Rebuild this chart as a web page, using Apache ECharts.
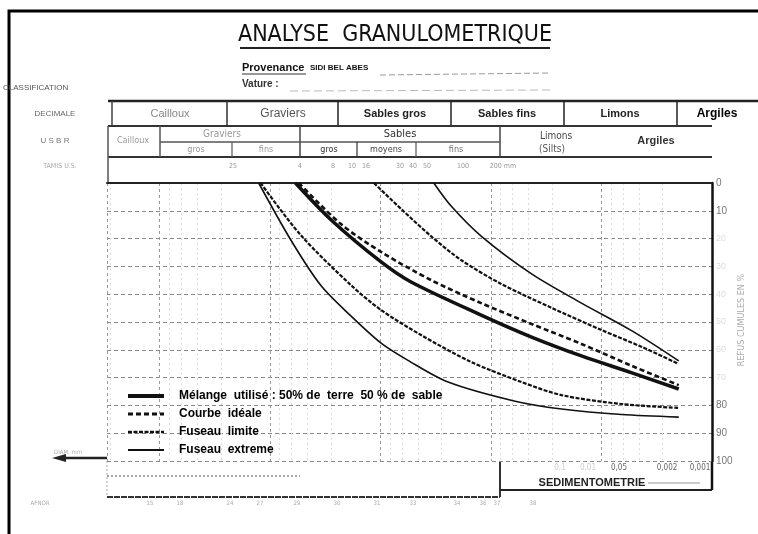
<!DOCTYPE html>
<html>
<head>
<meta charset="utf-8">
<title>Analyse granulométrique</title>
<script src="https://cdn.jsdelivr.net/npm/echarts@6/dist/echarts.min.js"></script>
<style>
  html, body { margin: 0; padding: 0; background: #fff; }
  #chart { width: 758px; height: 534px; }
</style>
</head>
<body>
<div id="chart"></div>
<script>
// diamètres en mm, refus cumulés en %
const extremeGaucheDiam = [12.7, 6.5, 3.5, 1.86, 0.99, 0.57, 0.245, 0.062, 0.023, 0.0066, 0.002]
const extremeGaucheRefus = [0, 20.5, 36.7, 47.8, 57.6, 63.7, 71.6, 78.4, 81.3, 83.3, 84.2]
const limiteGaucheDiam = [12.2, 5.3, 1.86, 0.99, 0.43, 0.151, 0.053, 0.023, 0.0066, 0.002]
const limiteGaucheRefus = [0, 18.7, 36.7, 45.7, 54.7, 64.4, 71.6, 76.3, 79.5, 80.9]
const melangeDiam = [5.9, 2.8, 0.99, 0.53, 0.123, 0.043, 0.0152, 0.0053, 0.002]
const melangeRefus = [0, 13.3, 28.4, 35.6, 47.5, 55.4, 62.2, 68.3, 74.1]
const idealeDiam = [5.5, 2.3, 0.99, 0.35, 0.123, 0.043, 0.0152, 0.0053, 0.002]
const idealeRefus = [0, 14.7, 24.8, 34.9, 43.2, 50.7, 57.9, 65.8, 72.7]
const limiteDroiteDiam = [1.15, 0.65, 0.35, 0.187, 0.081, 0.028, 0.010, 0.0043, 0.002]
const limiteDroiteRefus = [0, 9.4, 19.1, 27.7, 36.3, 45, 52.9, 59, 65.1]
const extremeDroiteDiam = [0.33, 0.23, 0.123, 0.043, 0.0152, 0.0053, 0.002]
const extremeDroiteRefus = [0, 8.3, 19.1, 32.7, 43.2, 53.2, 64]

const legendNames = ['Mélange  utilisé : 50% de  terre  50 % de  sable', 'Courbe  idéale', 'Fuseau  limite', 'Fuseau  extreme']
const decimaleLabels = ['Cailloux', 'Graviers', 'Sables gros', 'Sables fins', 'Limons', 'Argiles']
const tamisLabels = ['25', '4', '8', '10', '16', '30', '40', '50', '100', '200 mm']
const sedimentLabels = ['0,1', '0,01', '0,05', '0,002', '0,001']
const moduleLabels = ['15', '18', '24', '27', '29', '30', '31', '33', '34', '36', '37', '38']

const FONT = "'Liberation Sans Narrow', 'DejaVu Sans Condensed', 'Liberation Sans', sans-serif"
const BOLD = "'Liberation Sans', Arial, sans-serif"

// styles des quatre courbes de la légende
const styles = [
  { width: 3.5, type: 'solid' },
  { width: 2.6, type: [5, 3] },
  { width: 2.2, type: [4, 1.5] },
  { width: 1.6, type: 'solid' }
]

function zip(d, r) {
  return d.map((v, i) => [v, r[i]])
}

function line(x1, y1, x2, y2, width, color, dash) {
  return {
    type: 'line',
    silent: true,
    shape: { x1, y1, x2, y2 },
    style: { stroke: color || '#111', lineWidth: width || 1, lineDash: dash || null }
  }
}

function text(str, x, y, size, color, weight, align, family) {
  return {
    type: 'text',
    silent: true,
    x,
    y,
    style: {
      text: str,
      fill: color || '#222',
      font: (weight || 'normal') + ' ' + size + 'px ' + (family || FONT),
      align: align || 'center',
      verticalAlign: 'middle'
    }
  }
}

const graphics = [
  // cadre
  { type: 'polyline', silent: true, shape: { points: [[9, 534], [9, 11], [758, 11]] }, style: { stroke: '#000', lineWidth: 3, fill: null } },
  // en-tête
  text('ANALYSE  GRANULOMETRIQUE', 395, 35, 23, '#111'),
  line(240, 48, 550, 48, 2, '#222'),
  text('Provenance', 242, 68, 11, '#111', 'bold', 'left', BOLD),
  line(242, 74, 306, 74, 1, '#333'),
  text('SIDI BEL ABES', 310, 68, 8, '#111', 'bold', 'left', BOLD),
  line(380, 75, 550, 73, 1, '#999', [6, 3]),
  text('Vature :', 242, 84, 10, '#333', 'bold', 'left', BOLD),
  line(290, 91, 550, 90, 1, '#bbb', [8, 4]),
  text('CLASSIFICATION', 3, 88, 8, '#555', 'normal', 'left', BOLD),
  // ligne DECIMALE
  line(108, 101, 758, 101, 2.5, '#222'),
  text('DECIMALE', 55, 114, 8, '#666', 'normal', 'center', BOLD),
  line(112, 101, 112, 126, 1.5, '#444'),
  line(227, 101, 227, 126, 1.5, '#333'),
  line(338, 101, 338, 126, 1.5, '#222'),
  line(451, 101, 451, 126, 1.5, '#222'),
  line(564, 101, 564, 126, 1.5, '#222'),
  line(677, 101, 677, 126, 1.5, '#222'),
  text(decimaleLabels[0], 170, 114, 11, '#888', 'normal', 'center', BOLD),
  text(decimaleLabels[1], 283, 114, 12, '#555', 'normal', 'center', BOLD),
  text(decimaleLabels[2], 395, 114, 11, '#222', 'bold', 'center', BOLD),
  text(decimaleLabels[3], 507, 114, 11, '#222', 'bold', 'center', BOLD),
  text(decimaleLabels[4], 620, 114, 11, '#222', 'bold', 'center', BOLD),
  text(decimaleLabels[5], 717, 114, 12, '#000', 'bold', 'center', BOLD),
  // ligne USBR
  line(108, 126, 712, 126, 2, '#333'),
  line(108, 157, 712, 157, 2, '#333'),
  line(108, 126, 108, 183, 1.5, '#555'),
  line(160, 126, 160, 157, 1.5, '#555'),
  line(300, 126, 300, 157, 1.5, '#444'),
  line(500, 126, 500, 157, 1.5, '#444'),
  line(160, 142, 500, 142, 1.5, '#555'),
  line(232, 142, 232, 157, 1.2, '#555'),
  line(357, 142, 357, 157, 1.2, '#333'),
  line(416, 142, 416, 157, 1.2, '#555'),
  text('U S B R', 55, 141, 8, '#777', 'normal', 'center', BOLD),
  text('Cailloux', 133, 141, 9, '#999'),
  text('Graviers', 222, 134, 10, '#999'),
  text('gros', 196, 150, 9, '#999'),
  text('fins', 266, 150, 9, '#999'),
  text('Sables', 400, 134, 11, '#333'),
  text('gros', 329, 150, 9, '#333'),
  text('moyens', 386, 150, 9, '#444'),
  text('fins', 456, 150, 9, '#777'),
  text('Limons', 556, 136, 10, '#444'),
  text('(Silts)', 552, 149, 10, '#555'),
  text('Argiles', 656, 141, 11, '#333', 'bold', 'center', BOLD),
  // ligne tamis
  text('TAMIS U.S.', 60, 166, 7, '#aaa'),
  // bas du graphique
  line(107, 458, 62, 458, 2.5, '#222'),
  { type: 'polygon', silent: true, shape: { points: [[52, 458], [66, 454], [66, 462]] }, style: { fill: '#222' } },
  text('DIAM. mm', 68, 452, 6, '#aaa'),
  line(107, 476, 300, 476, 1.5, '#888', [2, 2]),
  line(107, 497, 500, 497, 2, '#333', [6, 1]),
  line(107, 461, 107, 497, 1, '#aaa', [2, 2]),
  line(500, 461, 500, 497, 2, '#333'),
  line(500, 490, 712, 490, 2, '#222'),
  line(712, 461, 712, 490, 2.5, '#111'),
  text('SEDIMENTOMETRIE', 592, 483, 11, '#222', 'bold', 'center', BOLD),
  line(648, 483, 700, 483, 1, '#999'),
  text('AFNOR', 40, 503, 6, '#aaa'),
  // axe des refus
  {
    type: 'text',
    silent: true,
    x: 742,
    y: 320,
    rotation: Math.PI / 2,
    style: { text: 'REFUS CUMULES EN %', fill: '#aaa', font: '9px ' + FONT, align: 'center', verticalAlign: 'middle' }
  }
]

const tamisX = [233, 300, 333, 352, 366, 400, 413, 427, 463, 503]
tamisLabels.forEach((t, i) => graphics.push(text(t, tamisX[i], 166, 7, '#999')))
const sedimentX = [560, 588, 619, 667, 700]
sedimentLabels.forEach((t, i) => graphics.push(text(t, sedimentX[i], 468, 8, i < 2 ? '#ccc' : '#666')))
const moduleX = [150, 180, 230, 260, 297, 337, 377, 413, 457, 483, 497, 533]
moduleLabels.forEach((t, i) => graphics.push(text(t, moduleX[i], 503, 6, '#aaa')))

const chart = echarts.init(document.getElementById('chart'))

function curve(idx, data) {
  return {
    name: legendNames[idx],
    type: 'line',
    data,
    smooth: 0.3,
    symbol: 'none',
    silent: true,
    color: '#111',
    lineStyle: { color: '#111', width: styles[idx].width, type: styles[idx].type }
  }
}

chart.setOption({
  backgroundColor: '#fff',
  animation: false,
  grid: { left: 107, right: 46, top: 183, bottom: 73 },
  legend: {
    data: legendNames.map((name, i) => ({
      name,
      lineStyle: { color: '#111', width: styles[i].width + 0.5, type: styles[i].type }
    })),
    orient: 'vertical',
    left: 121,
    top: 385,
    itemWidth: 36,
    itemHeight: 12,
    itemGap: 6,
    selectedMode: false,
    itemStyle: { opacity: 0 },
    textStyle: { color: '#000', fontSize: 12, fontWeight: 'bold', fontFamily: BOLD, padding: [0, 0, 0, 10] }
  },
  xAxis: {
    type: 'log',
    logBase: 10,
    min: 0.001,
    max: 300,
    inverse: true,
    axisLine: { show: true, lineStyle: { color: '#222', width: 2 } },
    axisTick: { show: false },
    axisLabel: { show: false },
    splitLine: { show: true, lineStyle: { color: '#999', type: [3, 3] } },
    minorTick: { show: false, splitNumber: 5 },
    minorSplitLine: { show: true, lineStyle: { color: '#ddd', type: [2, 3] } }
  },
  yAxis: {
    type: 'value',
    position: 'right',
    inverse: true,
    min: 0,
    max: 100,
    interval: 10,
    axisLine: { show: true, lineStyle: { color: '#111', width: 2.5 } },
    axisTick: { show: false },
    axisLabel: {
      margin: 4,
      fontSize: 10,
      fontFamily: BOLD,
      formatter: v => (v === 0 || v === 10 || v >= 80) ? '{a|' + v + '}' : '{b|' + v + '}',
      rich: { a: { color: '#777', fontSize: 10 }, b: { color: '#ddd', fontSize: 9 } }
    },
    splitLine: { show: true, lineStyle: { color: '#888', type: [4, 3] } }
  },
  graphic: graphics,
  series: [
    curve(3, zip(extremeGaucheDiam, extremeGaucheRefus)),
    curve(2, zip(limiteGaucheDiam, limiteGaucheRefus)),
    curve(0, zip(melangeDiam, melangeRefus)),
    curve(1, zip(idealeDiam, idealeRefus)),
    curve(2, zip(limiteDroiteDiam, limiteDroiteRefus)),
    curve(3, zip(extremeDroiteDiam, extremeDroiteRefus))
  ]
})
</script>
</body>
</html>
